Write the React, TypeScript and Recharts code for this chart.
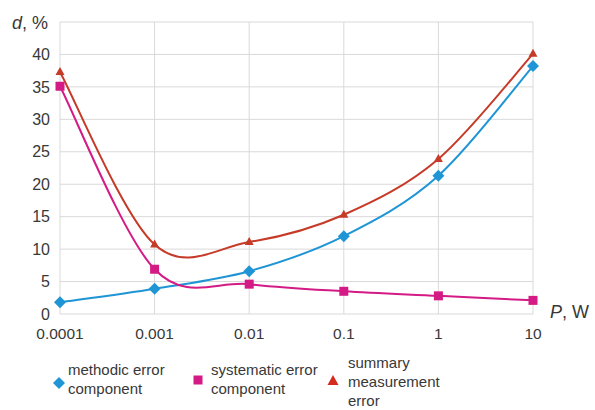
import { LineChart, Line, XAxis, YAxis, CartesianGrid } from "recharts";

const powers = ["0.0001", "0.001", "0.01", "0.1", "1", "10"];
const methodic = [1.8, 3.9, 6.6, 12.0, 21.3, 38.2];
const systematic = [35.1, 6.9, 4.6, 3.5, 2.8, 2.1];
const summary = [37.3, 10.7, 11.1, 15.3, 23.9, 40.1];
const yTicks = [0, 5, 10, 15, 20, 25, 30, 35, 40, 45];

const BLUE = "#1F95D5";
const MAGENTA = "#D41A85";
const RED = "#C63A28";
const TEXT = "#383838";
const FONT = '"Liberation Sans", Arial, sans-serif';

const data = powers.map((p, i) => ({
  p,
  methodic: methodic[i],
  systematic: systematic[i],
  summary: summary[i],
}));

// Excel-like smoothed line (uniform Catmull-Rom as bezier segments)
function smoothCurve(context: any) {
  let pts: number[][] = [];
  return {
    areaStart() {},
    areaEnd() {},
    lineStart() {
      pts = [];
    },
    lineEnd() {
      const n = pts.length;
      if (!n) return;
      context.moveTo(pts[0][0], pts[0][1]);
      for (let i = 0; i < n - 1; i++) {
        const p0 = pts[Math.max(i - 1, 0)];
        const p1 = pts[i];
        const p2 = pts[i + 1];
        const p3 = pts[Math.min(i + 2, n - 1)];
        context.bezierCurveTo(
          p1[0] + (p2[0] - p0[0]) / 6,
          p1[1] + (p2[1] - p0[1]) / 6,
          p2[0] - (p3[0] - p1[0]) / 6,
          p2[1] - (p3[1] - p1[1]) / 6,
          p2[0],
          p2[1]
        );
      }
    },
    point(x: number, y: number) {
      pts.push([x, y]);
    },
  };
}

const Diamond = ({ cx, cy }: any) => (
  <path
    key={`d-${cx}`}
    d={`M${cx},${cy - 6}L${cx + 6},${cy}L${cx},${cy + 6}L${cx - 6},${cy}Z`}
    fill={BLUE}
  />
);

const Square = ({ cx, cy }: any) => (
  <rect key={`s-${cx}`} x={cx - 4.5} y={cy - 4.5} width={9} height={9} fill={MAGENTA} />
);

const Triangle = ({ cx, cy }: any) => (
  <path
    key={`t-${cx}`}
    d={`M${cx},${cy - 5}L${cx + 4.5},${cy + 3}L${cx - 4.5},${cy + 3}Z`}
    fill={RED}
  />
);

const legendText = { position: "absolute" as const, fontSize: 15, lineHeight: "19px", color: TEXT };

export default function App() {
  return (
    <div style={{ position: "absolute", left: 0, top: 0, width: 595, height: 410, fontFamily: FONT, background: "#fff" }}>
      <LineChart width={595} height={410} data={data} margin={{ top: 22, right: 62, left: 0, bottom: 66 }}>
        <CartesianGrid stroke="#d9d9d9" strokeWidth={1} />
        <XAxis
          dataKey="p"
          axisLine={false}
          tickLine={false}
          tickMargin={8}
          height={30}
          tick={{ fill: TEXT, fontSize: 15.5, fontFamily: FONT }}
        />
        <YAxis
          domain={[0, 45]}
          ticks={yTicks}
          width={60}
          axisLine={false}
          tickLine={false}
          tickMargin={4}
          tickFormatter={(v) => (v === 45 ? "" : String(v))}
          tick={{ fill: TEXT, fontSize: 16, fontFamily: FONT }}
        />
        <Line dataKey="methodic" type={smoothCurve as any} stroke={BLUE} strokeWidth={2} dot={Diamond} isAnimationActive={false} />
        <Line dataKey="systematic" type={smoothCurve as any} stroke={MAGENTA} strokeWidth={2} dot={Square} isAnimationActive={false} />
        <Line dataKey="summary" type={smoothCurve as any} stroke={RED} strokeWidth={2} dot={Triangle} isAnimationActive={false} />
      </LineChart>

      <div style={{ position: "absolute", left: 12, top: 13, fontSize: 18, color: TEXT }}>
        <i>d</i>, %
      </div>
      <div style={{ position: "absolute", left: 550, top: 302, fontSize: 18, color: TEXT }}>
        <i>P</i>, W
      </div>

      <svg style={{ position: "absolute", left: 0, top: 0 }} width={595} height={410}>
        <path d="M59,377L65,383L59,389L53,383Z" fill={BLUE} />
        <rect x={193.5} y={375.5} width={9} height={9} fill={MAGENTA} />
        <path d="M333,375L338.5,385L327.5,385Z" fill="#D52B1E" />
      </svg>
      <div style={{ ...legendText, left: 68, top: 360 }}>
        methodic error
        <br />
        component
      </div>
      <div style={{ ...legendText, left: 211, top: 360 }}>
        systematic error
        <br />
        component
      </div>
      <div style={{ ...legendText, left: 348, top: 353 }}>
        summary
        <br />
        measurement
        <br />
        error
      </div>
    </div>
  );
}
